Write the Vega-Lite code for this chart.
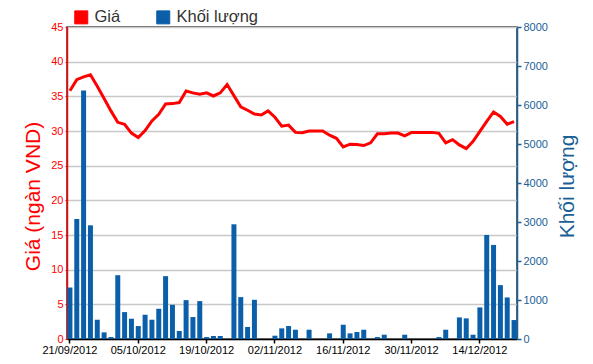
{
  "$schema": "https://vega.github.io/schema/vega-lite/v6.json",
  "width": 450,
  "height": 312,
  "autosize": {"type": "none"},
  "padding": {"left": 67, "top": 27, "right": 76, "bottom": 25},
  "background": "#ffffff",
  "view": {"stroke": "#333333", "strokeWidth": 1.5},
  "config": {
    "font": "Liberation Sans",
    "axis": {"labelFont": "Liberation Sans", "titleFont": "Liberation Sans", "labelFontSize": 11},
    "legend": {"labelFont": "Liberation Sans"}
  },
  "data": {"values": [
    {"date": "21/09/2012", "price": 35.8, "vol": 1320},
    {"date": "24/09/2012", "price": 37.4, "vol": 3077},
    {"date": "25/09/2012", "price": 37.8, "vol": 6370},
    {"date": "26/09/2012", "price": 38.1, "vol": 2915},
    {"date": "27/09/2012", "price": 36.45, "vol": 494},
    {"date": "28/09/2012", "price": 34.7, "vol": 170},
    {"date": "01/10/2012", "price": 32.9, "vol": 50},
    {"date": "02/10/2012", "price": 31.25, "vol": 1636},
    {"date": "03/10/2012", "price": 30.97, "vol": 690},
    {"date": "04/10/2012", "price": 29.7, "vol": 520},
    {"date": "05/10/2012", "price": 29.05, "vol": 332},
    {"date": "08/10/2012", "price": 30.06, "vol": 622},
    {"date": "09/10/2012", "price": 31.45, "vol": 494},
    {"date": "10/10/2012", "price": 32.4, "vol": 775},
    {"date": "11/10/2012", "price": 33.9, "vol": 1611},
    {"date": "12/10/2012", "price": 33.95, "vol": 877},
    {"date": "15/10/2012", "price": 34.1, "vol": 205},
    {"date": "16/10/2012", "price": 35.77, "vol": 997},
    {"date": "17/10/2012", "price": 35.5, "vol": 563},
    {"date": "18/10/2012", "price": 35.3, "vol": 972},
    {"date": "19/10/2012", "price": 35.5, "vol": 50},
    {"date": "22/10/2012", "price": 35.05, "vol": 77},
    {"date": "23/10/2012", "price": 35.5, "vol": 77},
    {"date": "24/10/2012", "price": 36.7, "vol": 0},
    {"date": "25/10/2012", "price": 35.1, "vol": 2941},
    {"date": "26/10/2012", "price": 33.5, "vol": 1074},
    {"date": "29/10/2012", "price": 33.0, "vol": 307},
    {"date": "30/10/2012", "price": 32.45, "vol": 1005},
    {"date": "31/10/2012", "price": 32.3, "vol": 0},
    {"date": "01/11/2012", "price": 32.9, "vol": 0},
    {"date": "02/11/2012", "price": 31.98, "vol": 85},
    {"date": "05/11/2012", "price": 30.7, "vol": 273},
    {"date": "06/11/2012", "price": 30.85, "vol": 332},
    {"date": "07/11/2012", "price": 29.8, "vol": 238},
    {"date": "08/11/2012", "price": 29.75, "vol": 0},
    {"date": "09/11/2012", "price": 30.0, "vol": 238},
    {"date": "12/11/2012", "price": 30.0, "vol": 0},
    {"date": "13/11/2012", "price": 30.0, "vol": 0},
    {"date": "14/11/2012", "price": 29.4, "vol": 145},
    {"date": "15/11/2012", "price": 28.95, "vol": 0},
    {"date": "16/11/2012", "price": 27.7, "vol": 366},
    {"date": "19/11/2012", "price": 28.1, "vol": 145},
    {"date": "20/11/2012", "price": 28.05, "vol": 179},
    {"date": "21/11/2012", "price": 27.9, "vol": 238},
    {"date": "22/11/2012", "price": 28.3, "vol": 0},
    {"date": "23/11/2012", "price": 29.6, "vol": 50},
    {"date": "26/11/2012", "price": 29.6, "vol": 110},
    {"date": "27/11/2012", "price": 29.7, "vol": 0},
    {"date": "28/11/2012", "price": 29.7, "vol": 0},
    {"date": "29/11/2012", "price": 29.3, "vol": 110},
    {"date": "30/11/2012", "price": 29.8, "vol": 0},
    {"date": "03/12/2012", "price": 29.8, "vol": 0},
    {"date": "04/12/2012", "price": 29.8, "vol": 0},
    {"date": "05/12/2012", "price": 29.8, "vol": 0},
    {"date": "06/12/2012", "price": 29.67, "vol": 50},
    {"date": "07/12/2012", "price": 28.3, "vol": 238},
    {"date": "10/12/2012", "price": 28.75, "vol": 0},
    {"date": "11/12/2012", "price": 28.0, "vol": 554},
    {"date": "12/12/2012", "price": 27.45, "vol": 529},
    {"date": "13/12/2012", "price": 28.5, "vol": 110},
    {"date": "14/12/2012", "price": 29.95, "vol": 810},
    {"date": "17/12/2012", "price": 31.4, "vol": 2668},
    {"date": "18/12/2012", "price": 32.75, "vol": 2412},
    {"date": "19/12/2012", "price": 32.1, "vol": 1381},
    {"date": "20/12/2012", "price": 30.97, "vol": 1066},
    {"date": "21/12/2012", "price": 31.35, "vol": 486}
  ]},
  "encoding": {
    "x": {
      "field": "date", "type": "ordinal", "sort": null,
      "scale": {"paddingInner": 0.27, "paddingOuter": 0.065},
      "axis": {
        "title": null,
        "values": ["21/09/2012", "05/10/2012", "19/10/2012", "02/11/2012", "16/11/2012", "30/11/2012", "14/12/2012"],
        "labelAngle": 0, "labelColor": "#000000", "labelFontSize": 11, "labelPadding": 1,
        "domainColor": "#000000", "domainWidth": 1.5,
        "tickColor": "#000000", "tickSize": 4, "tickWidth": 1.5,
        "grid": false
      }
    }
  },
  "layer": [
    {
      "mark": {"type": "bar"},
      "encoding": {
        "y": {
          "field": "vol", "type": "quantitative",
          "scale": {"domain": [0, 8000], "nice": false},
          "axis": {
            "orient": "right", "title": "Khối lượng", "grid": false, "format": "d",
            "values": [0, 1000, 2000, 3000, 4000, 5000, 6000, 7000, 8000],
            "labelColor": "#1a5f96", "labelFontSize": 11, "labelPadding": 2,
            "domainColor": "#1a5f96", "domainWidth": 1.5,
            "tickColor": "#1a5f96", "tickSize": 4, "tickWidth": 1.5,
            "titleColor": "#1a5f96", "titleFontSize": 21, "titleFontWeight": "normal",
            "titleAngle": 270, "titleAlign": "center", "titleBaseline": "middle",
            "titleX": 50, "titleY": 159
          }
        },
        "color": {
          "datum": "Khối lượng",
          "scale": {"domain": ["Giá", "Khối lượng"], "range": ["#ff0000", "#0a5fa8"]},
          "legend": {
            "orient": "none", "legendX": 6, "legendY": -18, "direction": "horizontal",
            "title": null, "padding": 0, "symbolType": "square", "symbolSize": 169,
            "symbolOpacity": 1,
            "labelFontSize": 16.5, "labelColor": "#333333", "labelOffset": 5, "columnPadding": 33,
            "encode": {"symbols": {"update": {"fill": {"scale": "color", "field": "value"}, "stroke": {"value": "#333333"}, "strokeWidth": {"value": 1}}}}
          }
        }
      }
    },
    {
      "mark": {"type": "line", "strokeWidth": 3, "interpolate": "linear"},
      "encoding": {
        "y": {
          "field": "price", "type": "quantitative",
          "scale": {"domain": [0, 45], "nice": false},
          "axis": {
            "orient": "left", "title": "Giá (ngàn VND)",
            "values": [0, 5, 10, 15, 20, 25, 30, 35, 40, 45],
            "grid": true, "gridColor": "#c8c8c8", "gridWidth": 1.5,
            "labelColor": "#ff0000", "labelFontSize": 11, "labelPadding": 2,
            "domainColor": "#ff0000", "domainWidth": 1.5,
            "tickColor": "#ff0000", "tickSize": 2, "tickWidth": 1,
            "titleColor": "#ff0000", "titleFontSize": 21, "titleFontWeight": "normal",
            "titleAngle": 270, "titleAlign": "center", "titleBaseline": "middle",
            "titleX": -34, "titleY": 169
          }
        },
        "color": {"datum": "Giá"}
      }
    }
  ],
  "resolve": {"scale": {"y": "independent"}}
}
